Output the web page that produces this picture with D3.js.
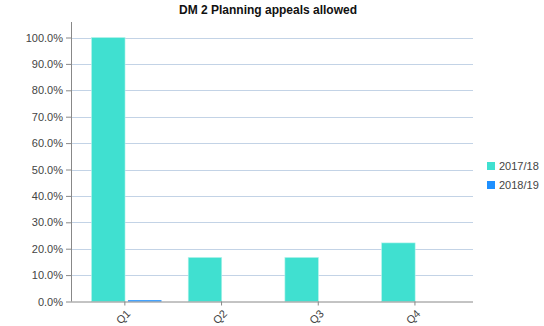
<!DOCTYPE html>
<html>
<head>
<meta charset="utf-8">
<script src="https://cdn.jsdelivr.net/npm/d3@7"></script>
<style>
  html, body { margin: 0; padding: 0; background: #fff; }
  svg { display: block; font-family: "Liberation Sans", Arial, sans-serif; }
</style>
</head>
<body>
<svg id="chart" width="544" height="326"></svg>
<script>
// Quarterly share of planning appeals allowed, per reporting year
const quarters = ["Q1", "Q2", "Q3", "Q4"];
const seriesNames = ["2017/18", "2018/19"];
const values2017 = [100.0, 16.7, 16.7, 22.2];
const values2018 = [0.5, 0, 0, 0];
const yTicks = [0, 10, 20, 30, 40, 50, 60, 70, 80, 90, 100];
const colors = ["#40e0d0", "#1e90ff"];
const titleText = "DM 2 Planning appeals allowed";

const seriesValues = [values2017, values2018];
const svg = d3.select("#chart");

const plot = { left: 71, right: 473, top: 22, bottom: 301.5 };

const x0 = d3.scaleBand().domain(quarters).range([75.5, 462.3]).paddingInner(0).paddingOuter(0);
const x1 = d3.scaleBand().domain(seriesNames).range([16, 86]).paddingInner(0.08);
const y = d3.scaleLinear().domain([0, 100]).range([plot.bottom, 37.5]);

// title
svg.append("text")
  .attr("x", 268).attr("y", 14)
  .attr("text-anchor", "middle")
  .style("font-weight", "bold").style("font-size", "12px").style("fill", "#111")
  .text(titleText);

// horizontal gridlines
svg.append("g").selectAll("line").data(yTicks.filter(d => d > 0)).join("line")
  .attr("x1", plot.left).attr("x2", plot.right)
  .attr("y1", d => Math.round(y(d)) + 0.5).attr("y2", d => Math.round(y(d)) + 0.5)
  .attr("stroke", "#c3d3e6").attr("stroke-width", 1);

// bars
const groups = svg.append("g").selectAll("g").data(quarters).join("g")
  .attr("transform", d => `translate(${x0(d)},0)`);
groups.selectAll("rect")
  .data((q, i) => seriesNames.map((s, k) => ({ s, k, v: seriesValues[k][i] })))
  .join("rect")
  .attr("x", d => x1(d.s))
  .attr("width", x1.bandwidth())
  .attr("y", d => y(d.v))
  .attr("height", d => plot.bottom - y(d.v))
  .attr("fill", d => colors[d.k])
  .attr("stroke", d => d.v > 0 && d.k === 0 ? "#b8f3ec" : "none")
  .attr("stroke-width", 0.6);

// y axis
const yAxis = d3.axisLeft(y).tickValues(yTicks).tickSize(5).tickPadding(3)
  .tickFormat(d => d3.format(".1f")(d) + "%");
const gy = svg.append("g").attr("transform", `translate(${plot.left},0)`).call(yAxis);
gy.select(".domain").remove();
gy.selectAll(".tick line").attr("stroke", "#888");
gy.selectAll(".tick text").style("font-size", "11px").style("fill", "#444")
  .style("font-family", "'Liberation Sans', Arial, sans-serif");
svg.append("line")
  .attr("x1", plot.left + 0.5).attr("x2", plot.left + 0.5)
  .attr("y1", plot.top).attr("y2", plot.bottom)
  .attr("stroke", "#888");

// x axis
const xAxis = d3.axisBottom(x0).tickSize(4).tickSizeOuter(0);
const gx = svg.append("g").attr("transform", `translate(0,${plot.bottom})`).call(xAxis);
gx.select(".domain").attr("d", `M${plot.left},0.5H${plot.right}`).attr("stroke", "#888");
gx.selectAll(".tick").attr("transform", d => `translate(${x0(d) + x0.bandwidth() / 2 + 1},0)`);
gx.selectAll(".tick line").attr("stroke", "#888");
gx.selectAll(".tick text")
  .attr("y", 0).attr("dy", 0)
  .attr("text-anchor", "middle")
  .attr("transform", "translate(-1,16) rotate(-45)")
  .style("font-size", "11px").style("fill", "#444")
  .style("font-family", "'Liberation Sans', Arial, sans-serif")
  .attr("dominant-baseline", "middle");

// legend
const legend = svg.append("g").selectAll("g").data(seriesNames).join("g")
  .attr("transform", (d, i) => `translate(487,${162 + i * 19})`);
legend.append("rect").attr("width", 8).attr("height", 8)
  .attr("fill", (d, i) => colors[i]);
legend.append("text").attr("x", 12).attr("y", 8)
  .style("font-size", "11px").style("fill", "#444")
  .text(d => d);
</script>
</body>
</html>
